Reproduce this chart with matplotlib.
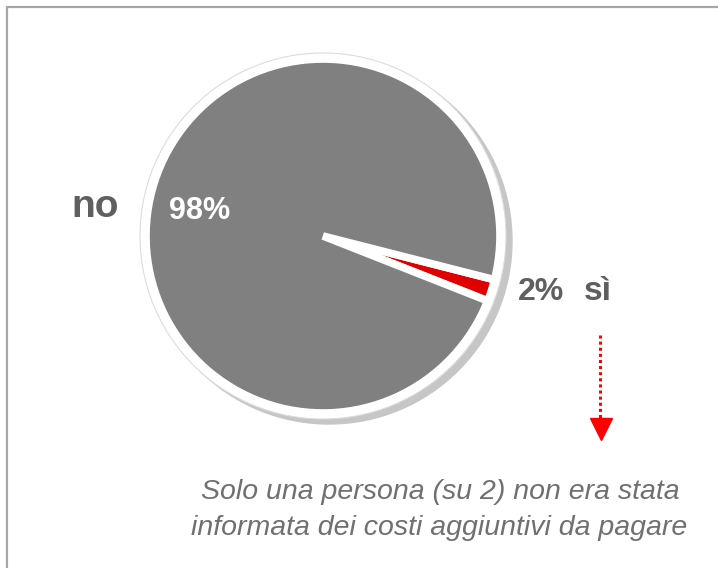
import matplotlib.pyplot as plt
from matplotlib.patches import Circle, Rectangle

labels = ["sì", "no"]
values = [2, 98]
colors = ["#e00000", "#808080"]
note_lines = ["Solo una persona (su 2) non era stata",
              "informata dei costi aggiuntivi da pagare"]

W, H = 718, 568
plt.rcParams["font.family"] = ["Liberation Sans"]

fig = plt.figure(figsize=(W / 100, H / 100), dpi=100)
ax = fig.add_axes([0, 0, 1, 1])

# frame of the slide
ax.add_patch(Rectangle((7, -20), W + 20, H - 7 + 20, facecolor="none", edgecolor="#a6a6a6", lw=1.6))

cx, cy, r = 323, H - 236, 177
# shadow and white rim
ax.add_patch(Circle((cx + 6, cy - 5), r + 6, color="#c6c6c6", zorder=1))
ax.add_patch(Circle((cx, cy), r + 6, facecolor="white", edgecolor="#dcdcdc", lw=0.8, zorder=2))

wedges, _ = ax.pie(values, colors=colors, startangle=-21.5, counterclock=True,
                   center=(cx, cy), radius=r, explode=[0.05, 0],
                   wedgeprops=dict(edgecolor="white", linewidth=5.5), frame=True)
for w in wedges:
    w.set_zorder(3)
ax.set_xlim(0, W)
ax.set_ylim(0, H)
ax.set_aspect("equal")
ax.axis("off")

lab_col = "#5f5f5f"
ax.text(95, H - 217, labels[1], ha="center", va="baseline", fontsize=28, fontweight="bold", color=lab_col, zorder=5)
ax.text(200, H - 219, f"{values[1]}%", ha="center", va="baseline", fontsize=22, fontweight="bold", color="white", zorder=5)
ax.text(541, H - 300, f"{values[0]}%", ha="center", va="baseline", fontsize=23, fontweight="bold", color=lab_col, zorder=5)
ax.text(598, H - 300, labels[0], ha="center", va="baseline", fontsize=24, fontweight="bold", color=lab_col, zorder=5)

# red dotted arrow
ax.plot([600, 600], [H - 335, H - 420], color="red", lw=2.2, ls=(0, (1, 1)), zorder=5)
ax.plot([601], [H - 429], marker="v", color="red", markersize=16, zorder=5)

ax.text(440, H - 499, note_lines[0], ha="center", va="baseline", fontsize=20.5, style="italic", color="#707070")
ax.text(439, H - 535, note_lines[1], ha="center", va="baseline", fontsize=20.5, style="italic", color="#707070")

fig.savefig("out.png", dpi=100)
